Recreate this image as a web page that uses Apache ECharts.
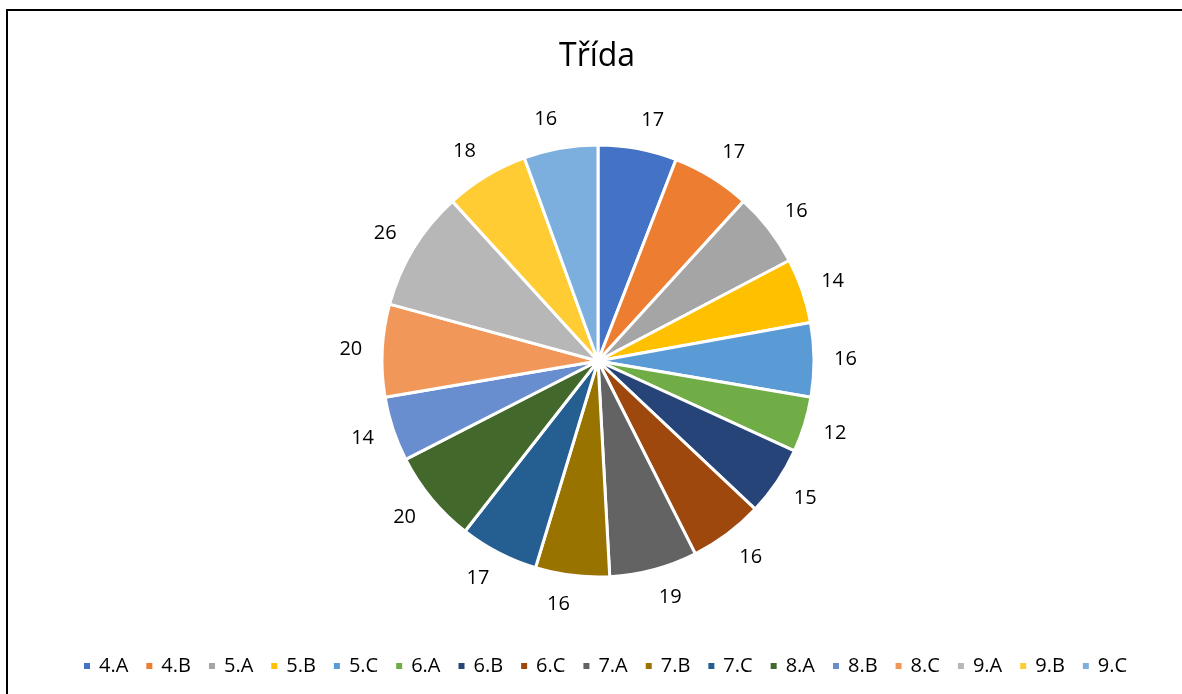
<!DOCTYPE html>
<html>
<head>
<meta charset="utf-8">
<script src="https://cdn.jsdelivr.net/npm/echarts@6/dist/echarts.min.js"></script>
<style>html,body{margin:0;padding:0;background:#fff;}#c{width:1182px;height:694px;}</style>
</head>
<body>
<div id="c"></div>
<script>
const categories = ['4.A','4.B','5.A','5.B','5.C','6.A','6.B','6.C','7.A','7.B','7.C','8.A','8.B','8.C','9.A','9.B','9.C'];
const values = [17,17,16,14,16,12,15,16,19,16,17,20,14,20,26,18,16];
const colors = ['#4472C4','#ED7D31','#A5A5A5','#FFC000','#5B9BD5','#70AD47','#264478','#9E480E','#636363','#997300','#255E91','#43682B','#698ED0','#F1975A','#B7B7B7','#FFCD33','#7CAFDD'];
const titleText = 'Třída';

const CX = 598, CY = 361, R = 216, ANCHOR_R = 236, VERT_R = 245;
const total = values.reduce((a, b) => a + b, 0);
const cum = [];
values.reduce((acc, v, i) => { cum[i] = acc; return acc + v; }, 0);

const chart = echarts.init(document.getElementById('c'));
const font = '"Open Sans", "Noto Sans", sans-serif';
chart.setOption({
  animation: false,
  color: colors,
  title: {
    text: titleText, left: 554, top: 36,
    textStyle: {fontFamily: font, fontSize: 32, fontWeight: 'normal', color: '#000'}
  },
  legend: {
    top: 656, left: 82, padding: 0,
    itemWidth: 8, itemHeight: 8, itemGap: 16, icon: 'rect',
    textStyle: {fontFamily: font, fontSize: 20, color: '#000', padding: [0, 0, 0, 3]},
    data: categories
  },
  graphic: [{
    type: 'rect', shape: {x: 7, y: 10, width: 1200, height: 700},
    style: {fill: 'none', stroke: '#000', lineWidth: 2}, silent: true, z: -1
  }],
  series: [{
    type: 'pie',
    center: [CX, CY],
    radius: R,
    startAngle: 90,
    clockwise: true,
    data: categories.map((c, i) => ({name: c, value: values[i]})),
    itemStyle: {borderColor: '#fff', borderWidth: 3},
    label: {show: true, position: 'outside', formatter: '{c}', fontFamily: font, fontSize: 20, color: '#000'},
    labelLine: {show: false, length: 16, length2: 0},
    labelLayout: function (p) {
      const i = p.dataIndex;
      const frac = (cum[i] + values[i] / 2) / total;
      const ang = frac * 2 * Math.PI;
      const s = Math.sin(ang), c = Math.cos(ang);
      const hw = p.labelRect.width / 2;
      return {
        x: CX + ANCHOR_R * s + Math.sign(s) * hw,
        y: CY - VERT_R * c,
        align: 'center',
        verticalAlign: 'middle'
      };
    },
    emphasis: {disabled: true}
  }]
});
</script>
</body>
</html>
